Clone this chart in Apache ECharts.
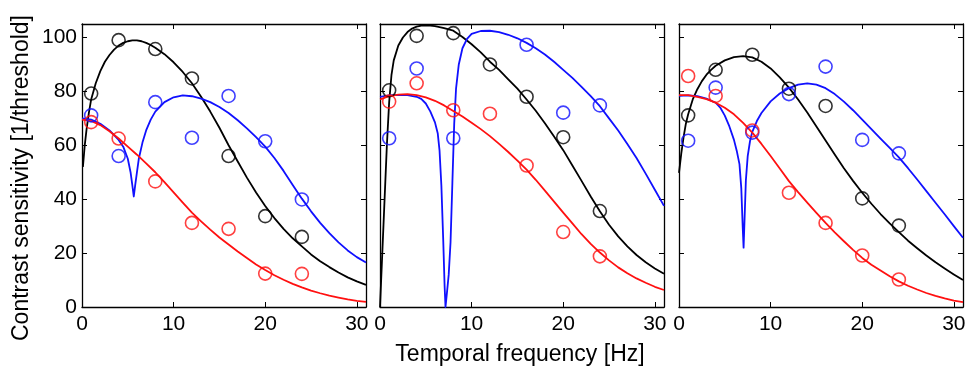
<!DOCTYPE html>
<html>
<head>
<meta charset="utf-8">
<script src="https://cdn.jsdelivr.net/npm/echarts@6/dist/echarts.min.js"></script>
<style>html,body{margin:0;padding:0;background:#fff;}#c{width:969px;height:373px;}</style>
</head>
<body>
<div id="c"></div>
<script>
// Measured frequencies (Hz)
const freqs = [1, 4, 8, 12, 16, 20, 24];
const xTicks = [0, 10, 20, 30];
const yTicks = [0, 20, 40, 60, 80, 100];

// Panel 1 data
const p1Black = [79.2, 99, 95.7, 84.8, 56, 33.7, 26];
const p1Blue  = [71.1, 56, 76, 62.8, 78.3, 61.5, 39.9];
const p1Red   = [68.6, 62.5, 46.6, 31.2, 29, 12.4, 12.3];
// Panel 2 data
const p2Black = [80.4, 100.6, 101.6, 90, 78, 63, 35.6];
const p2Blue  = [62.6, 88.5, 62.6, null, 97.3, 72.1, 74.8];
const p2Red   = [76.2, 83, 73, 71.7, 52.5, 27.8, 18.8];
// Panel 3 data
const p3Black = [71.1, 88, 93.6, 81, 74.6, 40.3, 30.2];
const p3Blue  = [61.7, 81.4, 64.7, 79, 89.2, 62, 57];
const p3Red   = [85.7, 78.3, 65.5, 42.4, 31.2, 19.1, 10.2];

// Fitted curves
const p1BlackFitX = [0.1,0.3,0.5,0.75,1,1.5,2,2.5,3,3.5,4,4.5,5,5.5,6,6.5,7,7.5,8,9,10,11,12,13,14,15,16,17,18,19,20,21,22,23,24,25,26,27,28,29,30,31];
const p1BlackFitY = [52,60,66,72,77,83,87.5,91,93.5,95.5,97,98,98.6,98.9,98.9,98.6,98,97.2,96.2,93.8,90.8,87.2,83,78,72.5,66.5,60,54,48,42.5,37.5,33,29,25.5,22.5,19.5,17,14.8,12.8,11,9.5,8.2];
const p1BlueFitX = [0,1,2,3,4,4.5,5,5.3,5.5,5.65,5.8,6,6.2,6.6,7,7.5,8,9,10,11,12,13,14,15,16,17,18,19,20,21,22,23,24,25,26,27,28,29,30,31];
const p1BlueFitY = [70,69.5,68,65.5,62,59.5,55,50,45,41,45,50,55,61,65.5,69.5,72.5,76,77.8,78.5,78.2,77.3,76,74.2,72,69.3,66.3,63,59.5,55.3,50.5,45.3,40.2,35.5,31.2,27.4,24,21,18.5,16.5];
const p1RedFitX = [0,1,2,3,4,5,6,7,8,9,10,11,12,13,14,15,16,17,18,19,20,21,22,23,24,25,26,27,28,29,30,31];
const p1RedFitY = [69.5,69,67.5,65.2,62.5,59.5,56.5,53.3,50,46.3,42.5,38.7,35,31.8,28.7,25.8,23.2,20.6,18.2,15.8,13.7,11.8,10.1,8.6,7.3,6.1,5.1,4.2,3.5,2.8,2.3,1.9];

const p2BlackFitX = [0,0.25,0.5,0.75,1,1.25,1.5,2,2.5,3,3.5,4,4.5,5,5.5,6,7,8,9,10,11,12,13,14,15,16,17,18,19,20,21,22,23,24,25,26,27,28,29,30,31];
const p2BlackFitY = [0,20,40,60,76,86,91.5,97,100,102,103.3,104,104.4,104.5,104.4,104.2,103.5,102.5,100.2,97.5,94.5,91,88,84.5,81,77,72.8,68.2,63.3,58.2,52.5,46.8,41,35.5,30.5,26.2,22.5,19.3,16.6,14.3,12.3];
const p2BlueFitX = [0,1,2,3,4,4.5,5,5.5,6,6.3,6.5,6.7,6.9,7.05,7.15,7.3,7.5,7.7,7.9,8.1,8.3,8.6,9,9.5,10,11,12,13,14,15,16,17,18,19,20,21,22,23,24,25,26,27,28,29,30,31];
const p2BlueFitY = [78,78.5,78.7,78.6,78,77.2,75.5,72.5,68.5,64.5,58,45,25,8,0,5,12,24,46,68,81,90,96,99.5,101.3,102.4,102.5,102,101,99.7,98,96,93.7,91,88,85,81.7,78.2,74.5,70,65.5,60.5,55.3,49.5,43.5,37.5];
const p2RedFitX = [0,1,2,3,4,5,6,7,8,9,10,11,12,13,14,15,16,17,18,19,20,21,22,23,24,25,26,27,28,29,30,31];
const p2RedFitY = [77,78.2,78.8,79,78.6,77.8,76.5,74.8,72.7,70.7,68.4,66,63.4,60.5,57.5,54.3,51,47.2,43.2,39.1,35,31,27,23.4,20.2,17.3,14.7,12.5,10.6,9,7.5,6.3];

const p3BlackFitX = [0,0.25,0.5,0.75,1,1.5,2,2.5,3,3.5,4,5,6,7,8,9,10,11,12,13,14,15,16,17,18,19,20,21,22,23,24,25,26,27,28,29,30,31];
const p3BlackFitY = [49.8,57,63,68,71.5,77,80.8,83.8,86.2,88,89.5,91.5,92.7,93.1,92.6,91,88.5,85.2,81.4,77,72.2,67,61.8,56.6,51.5,46.8,42.4,38.3,34.5,31,27.8,24.6,21.8,19.1,16.6,14.3,12.1,10];
const p3BlueFitX = [0,1,2,3,4,4.5,5,5.5,6,6.3,6.6,6.8,6.95,7.05,7.15,7.3,7.5,7.75,8,8.5,9,10,11,12,13,14,15,16,17,18,19,20,21,22,23,24,25,26,27,28,29,30,31];
const p3BlueFitY = [78.3,78.5,78.2,77.3,75.8,74,71,67,62,58,53,44,30,22,32,47,56,61.5,65,69,72,76.3,79.2,81.2,82.5,83,82.5,81.2,79,76.2,73,69.5,66,62.5,59,55.5,51.5,47.3,43,38.7,34.4,30,25.7];
const p3RedFitX = [0,1,2,3,4,5,6,7,8,9,10,11,12,13,14,15,16,17,18,19,20,21,22,23,24,25,26,27,28,29,30,31];
const p3RedFitY = [78.6,78.6,78,77.1,75.8,73.9,71.5,68.3,64.7,60.5,56,51.4,46.7,42.6,38.7,34.9,31.2,27.7,24.4,21.2,18.2,15.7,13.5,11.4,9.5,7.9,6.5,5.2,4.1,3.2,2.4,1.8];

const COLORS = { black: '#000000', blue: '#1010ff', red: '#ff1010' };
const FONT = '"Liberation Sans", Arial, Helvetica, sans-serif';

const panels = [
  { pts: [p1Black, p1Blue, p1Red], fits: [[p1BlackFitX,p1BlackFitY],[p1BlueFitX,p1BlueFitY],[p1RedFitX,p1RedFitY]] },
  { pts: [p2Black, p2Blue, p2Red], fits: [[p2BlackFitX,p2BlackFitY],[p2BlueFitX,p2BlueFitY],[p2RedFitX,p2RedFitY]] },
  { pts: [p3Black, p3Blue, p3Red], fits: [[p3BlackFitX,p3BlackFitY],[p3BlueFitX,p3BlueFitY],[p3RedFitX,p3RedFitY]] }
];
const colorOrder = [COLORS.black, COLORS.blue, COLORS.red];
const lefts = [82, 380, 679];

const grid = [], xAxis = [], yAxis = [], series = [];
const tickStyle = { show: true, inside: true, length: 5, lineStyle: { color: '#000', width: 1 } };
const lineStyle = { show: true, onZero: false, lineStyle: { color: '#000', width: 1.3 } };
panels.forEach((p, i) => {
  grid.push({ left: lefts[i], top: 24, width: 284, height: 283, containLabel: false });
  xAxis.push({ type: 'value', gridIndex: i, min: 0, max: 31, position: 'bottom',
    axisLine: lineStyle, axisTick: Object.assign({ customValues: xTicks }, tickStyle),
    axisLabel: { show: true, customValues: xTicks, fontSize: 21, color: '#000', fontFamily: FONT, margin: 7 },
    splitLine: { show: false } });
  xAxis.push({ type: 'value', gridIndex: i, min: 0, max: 31, position: 'top',
    axisLine: lineStyle, axisTick: Object.assign({ customValues: xTicks }, tickStyle),
    axisLabel: { show: false }, splitLine: { show: false } });
  yAxis.push({ type: 'value', gridIndex: i, min: 0, max: 105, position: 'left',
    axisLine: lineStyle, axisTick: Object.assign({ customValues: yTicks }, tickStyle),
    axisLabel: { show: i === 0, customValues: yTicks, fontSize: 21, color: '#000', fontFamily: FONT, margin: 5 },
    splitLine: { show: false } });
  yAxis.push({ type: 'value', gridIndex: i, min: 0, max: 105, position: 'right',
    axisLine: lineStyle, axisTick: Object.assign({ customValues: yTicks }, tickStyle),
    axisLabel: { show: false }, splitLine: { show: false } });
  p.fits.forEach((f, k) => {
    series.push({ type: 'line', xAxisIndex: 2 * i, yAxisIndex: 2 * i, showSymbol: false,
      smooth: false, data: f[0].map((x, j) => [x, f[1][j]]),
      lineStyle: { color: colorOrder[k], width: 1.8, join: 'round' }, z: 2, silent: true, animation: false });
  });
  p.pts.forEach((vals, k) => {
    series.push({ type: 'scatter', xAxisIndex: 2 * i, yAxisIndex: 2 * i, symbol: 'circle', symbolSize: 13,
      data: freqs.map((x, j) => vals[j] == null ? null : [x, vals[j]]).filter(d => d),
      itemStyle: { color: 'rgba(0,0,0,0)', borderColor: colorOrder[k], borderWidth: 1.6 }, z: 3, animation: false });
  });
});

const chart = echarts.init(document.getElementById('c'), null, { renderer: 'canvas' });
chart.setOption({
  animation: false,
  backgroundColor: '#fff',
  grid, xAxis, yAxis, series,
  graphic: [
    { type: 'text', x: 22, y: 178, rotation: Math.PI / 2,
      style: { text: 'Contrast sensitivity [1/threshold]', fontSize: 23, fontFamily: FONT, fill: '#000', align: 'center', verticalAlign: 'middle' } },
    { type: 'text', x: 520, y: 355,
      style: { text: 'Temporal frequency [Hz]', fontSize: 23, fontFamily: FONT, fill: '#000', align: 'center', verticalAlign: 'middle' } }
  ]
});
</script>
</body>
</html>
